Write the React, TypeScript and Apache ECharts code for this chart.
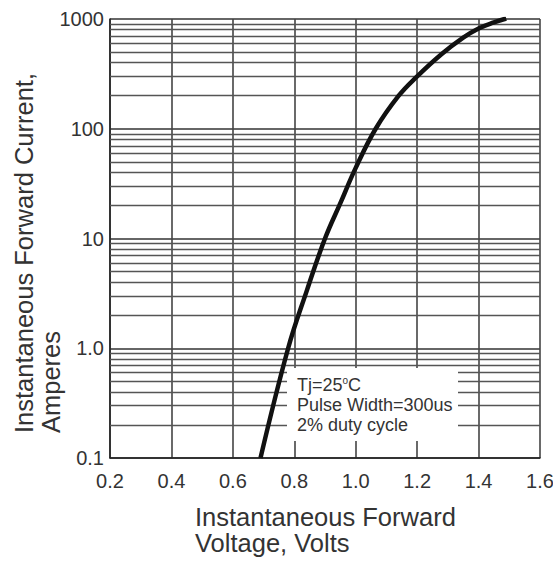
import React, { useEffect, useRef } from "react";
import * as echarts from "echarts";

const voltage = [0.69, 0.78, 0.84, 0.9, 0.95, 1.0, 1.065, 1.14, 1.2, 1.28, 1.35, 1.4, 1.45, 1.49];
const current = [0.1, 1.0, 3.3, 10, 21, 44, 100, 200, 300, 480, 676, 820, 930, 1010];
const minorGrid = [
  0.2, 0.3, 0.4, 0.5, 0.6, 0.7, 0.8, 0.9,
  2, 3, 4, 5, 6, 7, 8, 9,
  20, 30, 40, 50, 60, 70, 80, 90,
  200, 300, 400, 500, 600, 700, 800, 900,
];
const noteLines = ["Tj=25{s|o}C", "Pulse Width=300us", "2% duty cycle"];
const yAxisTitleLines = ["Instantaneous Forward Current,", "Amperes"];
const xAxisTitleLines = ["Instantaneous Forward", "Voltage, Volts"];

const FONT = "Liberation Sans, Arial, sans-serif";
const TEXT = "#333";

export default function App() {
  const ref = useRef<HTMLDivElement>(null);
  useEffect(() => {
    if (!ref.current) return;
    const chart = echarts.init(ref.current, undefined, { renderer: "svg" });
    const titleStyle = { fontSize: 25.5, fill: TEXT, fontFamily: FONT };
    chart.setOption({
      animation: false,
      backgroundColor: "#ffffff",
      grid: { left: 110, right: 13, top: 19, bottom: 103, containLabel: false, outerBoundsMode: "none" },
      xAxis: {
        type: "value",
        min: 0.2,
        max: 1.6,
        interval: 0.2,
        axisLine: { show: true, lineStyle: { color: "#222", width: 1.5 } },
        axisTick: { show: false },
        splitLine: { show: true, lineStyle: { color: "#444", width: 1.6 } },
        axisLabel: {
          margin: 13,
          fontSize: 20,
          color: TEXT,
          fontFamily: FONT,
          formatter: (v: number) => v.toFixed(1),
        },
      },
      yAxis: {
        type: "log",
        logBase: 10,
        min: 0.1,
        max: 1000,
        axisLine: { show: true, lineStyle: { color: "#222", width: 1.5 } },
        axisTick: { show: false },
        splitLine: { show: true, lineStyle: { color: "#333", width: 1.6 } },
        minorSplitLine: { show: false },
        axisLabel: {
          margin: 6,
          fontSize: 20,
          color: TEXT,
          fontFamily: FONT,
          formatter: (v: number) => (Math.abs(v - 1) < 1e-9 ? "1.0" : String(v)),
        },
      },
      series: [
        {
          type: "line",
          data: voltage.map((v, i) => [v, current[i]]),
          showSymbol: false,
          smooth: 0.4,
          lineStyle: { color: "#111", width: 4.5 },
          z: 5,
          markLine: {
            silent: true,
            symbol: "none",
            label: { show: false },
            lineStyle: { color: "#555", width: 1.4, type: "solid" },
            data: minorGrid.map((v) => ({ yAxis: v })),
            z: 1,
          },
        },
      ],
      graphic: [
        {
          type: "rect",
          z: 100,
          shape: { x: 287, y: 368, width: 171, height: 73 },
          style: { fill: "#ffffff" },
        },
        {
          type: "text",
          z: 101,
          left: 297,
          top: 375,
          style: {
            text: noteLines.join("\n"),
            fontSize: 18,
            lineHeight: 20,
            fill: TEXT,
            fontFamily: FONT,
            rich: {
              s: { fontSize: 10, verticalAlign: "top", lineHeight: 20, fill: TEXT, padding: [0, 0, 8, 0] },
            },
          },
        },
        ...xAxisTitleLines.map((t, i) => ({
          type: "text",
          z: 101,
          x: 195,
          y: 517 + i * 26,
          style: { ...titleStyle, text: t, align: "left", verticalAlign: "middle" },
        })),
        ...yAxisTitleLines.map((t, i) => ({
          type: "text",
          z: 101,
          x: 24 + i * 27,
          y: 433,
          rotation: Math.PI / 2,
          style: { ...titleStyle, text: t, align: "left", verticalAlign: "middle" },
        })),
      ],
    });
    return () => chart.dispose();
  }, []);
  return (
    <div
      ref={ref}
      style={{ position: "fixed", left: 0, top: 0, width: 553, height: 561, background: "#fff" }}
    />
  );
}
